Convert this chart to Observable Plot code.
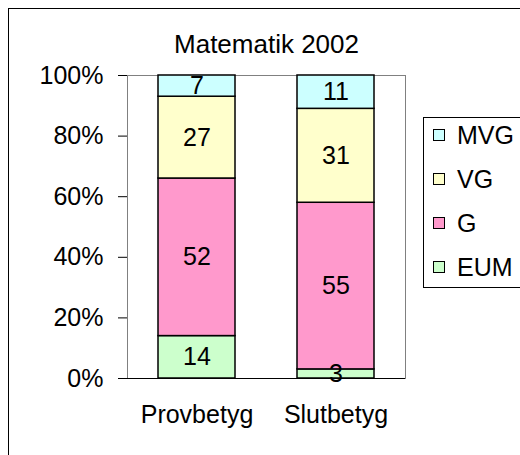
<!DOCTYPE html>
<html>
<head>
<meta charset="utf-8">
<script src="https://cdn.jsdelivr.net/npm/d3@7"></script>
<script src="https://cdn.jsdelivr.net/npm/@observablehq/plot@0.6"></script>
<style>
  html, body { margin: 0; padding: 0; background: #fff; overflow: hidden; }
  #wrap { position: relative; width: 520px; height: 455px; overflow: hidden; font-family: "Liberation Sans", Arial, sans-serif; }
  #outer { position: absolute; left: 8px; top: 8px; width: 700px; height: 700px; border: 1px solid #000; box-sizing: border-box; pointer-events: none; }
  #chart { position: absolute; left: 0; top: 0; }
  #legend { position: absolute; left: 423px; top: 117px; width: 130px; height: 171px; border: 1px solid #000; box-sizing: border-box; background: #fff; }
  .item { position: absolute; left: 9px; height: 30px; display: flex; align-items: center; font-size: 25px; color: #000; }
  .sw { width: 10px; height: 10px; border: 1.5px solid #000; margin-right: 12px; }
</style>
</head>
<body>
<div id="wrap">
  <div id="outer"></div>
  <div id="chart"></div>
  <div id="legend"></div>
</div>
<script>
const title = "Matematik 2002";
const categories = ["Provbetyg", "Slutbetyg"];
const grades = ["EUM", "G", "VG", "MVG"];
const provbetyg = [14, 52, 27, 7];
const slutbetyg = [3, 55, 31, 11];
const colors = ["#CCFFCC", "#FF99CC", "#FFFFCC", "#CCFFFF"];
const yTicks = [0, 20, 40, 60, 80, 100];

const series = [provbetyg, slutbetyg];
const rows = [];
categories.forEach((c, i) => grades.forEach((g, j) => rows.push({cat: c, grade: g, value: series[i][j]})));

const font = "'Liberation Sans', Arial, sans-serif";
const plot = Plot.plot({
  width: 520,
  height: 455,
  marginLeft: 127,
  marginRight: 115,
  marginTop: 75,
  marginBottom: 77,
  style: {fontFamily: font, fontSize: "25px", color: "#000", background: "transparent", overflow: "visible"},
  x: {domain: categories, paddingInner: 0.446, paddingOuter: 0.223, label: null},
  y: {domain: [0, 100], label: null},
  color: {domain: grades, range: colors},
  marks: [
    Plot.frame({stroke: "#808080"}),
    Plot.barY(rows, Plot.stackY({x: "cat", y: "value", fill: "grade", order: grades, stroke: "#000", strokeWidth: 1.5})),
    Plot.text(rows, Plot.stackY({x: "cat", y: "value", z: "grade", order: grades, text: d => String(d.value), fill: "#000", fontSize: 25})),
    Plot.axisY({ticks: yTicks, tickFormat: d => d + "%", tickSize: 9, tickPadding: 15, label: null, fontSize: 25, line: true, stroke: "#000"}),
    Plot.axisX({tickSize: 0, tickPadding: 27, label: null, fontSize: 25}),
    Plot.ruleY([0], {stroke: "#000", strokeWidth: 1.2}),
    Plot.text([title], {frameAnchor: "top", dy: -41, fontSize: 26, fill: "#000"})
  ]
});
document.getElementById("chart").appendChild(plot);

const legend = document.getElementById("legend");
const order = grades.map((g, i) => i).reverse();
order.forEach((idx, k) => {
  const item = document.createElement("div");
  item.className = "item";
  item.style.top = (2 + k * 44) + "px";
  const sw = document.createElement("div");
  sw.className = "sw";
  sw.style.background = colors[idx];
  const t = document.createElement("span");
  t.textContent = grades[idx];
  item.appendChild(sw);
  item.appendChild(t);
  legend.appendChild(item);
});
</script>
</body>
</html>
